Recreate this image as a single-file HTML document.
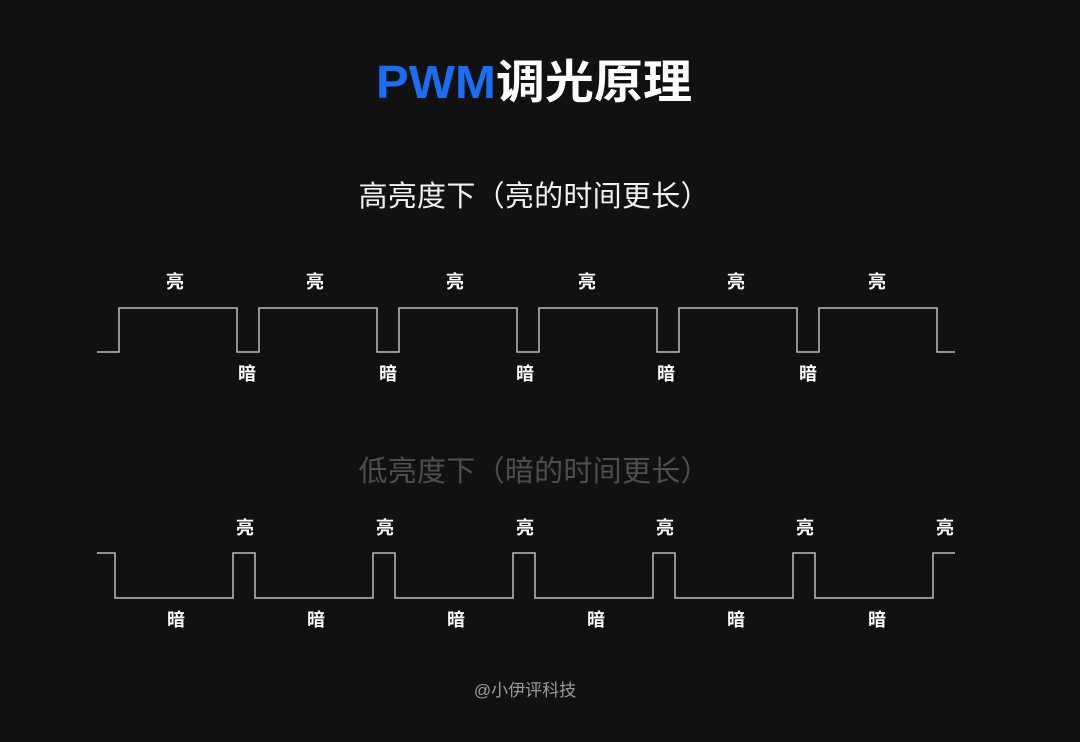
<!DOCTYPE html>
<html><head><meta charset="utf-8"><style>
html,body{margin:0;padding:0;background:#111112;}
svg{display:block}
text{font-family:"Liberation Sans","Noto Sans CJK SC",sans-serif;}
</style></head><body>
<svg width="1080" height="742" viewBox="0 0 1080 742" xmlns="http://www.w3.org/2000/svg">
<rect width="1080" height="742" fill="#111112"/>
<text x="376" y="98" font-size="46" font-weight="bold" fill="#fff" textLength="316" lengthAdjust="spacingAndGlyphs"><tspan fill="#1a6ef5">PWM</tspan>调光原理</text>
<text x="534" y="206" text-anchor="middle" font-size="29" fill="#f2f2f2" textLength="351">高亮度下（亮的时间更长）</text>
<text x="534" y="481" text-anchor="middle" font-size="29" fill="#4e4e4e" textLength="351">低亮度下（暗的时间更长）</text>
<text x="525" y="696" text-anchor="middle" font-size="17" fill="#9a9a9a">@小伊评科技</text>

<path fill="none" stroke="#bdbdbd" stroke-width="1.5" d="M97 352 H119 V308 H237 V352 H259 V308 H377 V352 H399 V308 H517 V352 H539 V308 H657 V352 H679 V308 H797 V352 H819 V308 H937 V352 H955"/>
<path fill="none" stroke="#bdbdbd" stroke-width="1.5" d="M97 553 H115 V598 H233 V553 H255 V598 H373 V553 H395 V598 H513 V553 H535 V598 H653 V553 H675 V598 H793 V553 H815 V598 H933 V553 H955"/>

<g font-size="18" font-weight="bold" fill="#fff" text-anchor="middle">
<text x="175" y="288">亮</text><text x="315" y="288">亮</text><text x="455" y="288">亮</text><text x="587" y="288">亮</text><text x="736" y="288">亮</text><text x="877" y="288">亮</text>
<text x="247" y="380">暗</text><text x="388" y="380">暗</text><text x="525" y="380">暗</text><text x="666" y="380">暗</text><text x="808" y="380">暗</text>
<text x="245" y="534">亮</text><text x="385" y="534">亮</text><text x="525" y="534">亮</text><text x="665" y="534">亮</text><text x="805" y="534">亮</text><text x="945" y="534">亮</text>
<text x="176" y="626">暗</text><text x="316" y="626">暗</text><text x="456" y="626">暗</text><text x="596" y="626">暗</text><text x="736" y="626">暗</text><text x="877" y="626">暗</text>
</g>
</svg>
</body></html>
